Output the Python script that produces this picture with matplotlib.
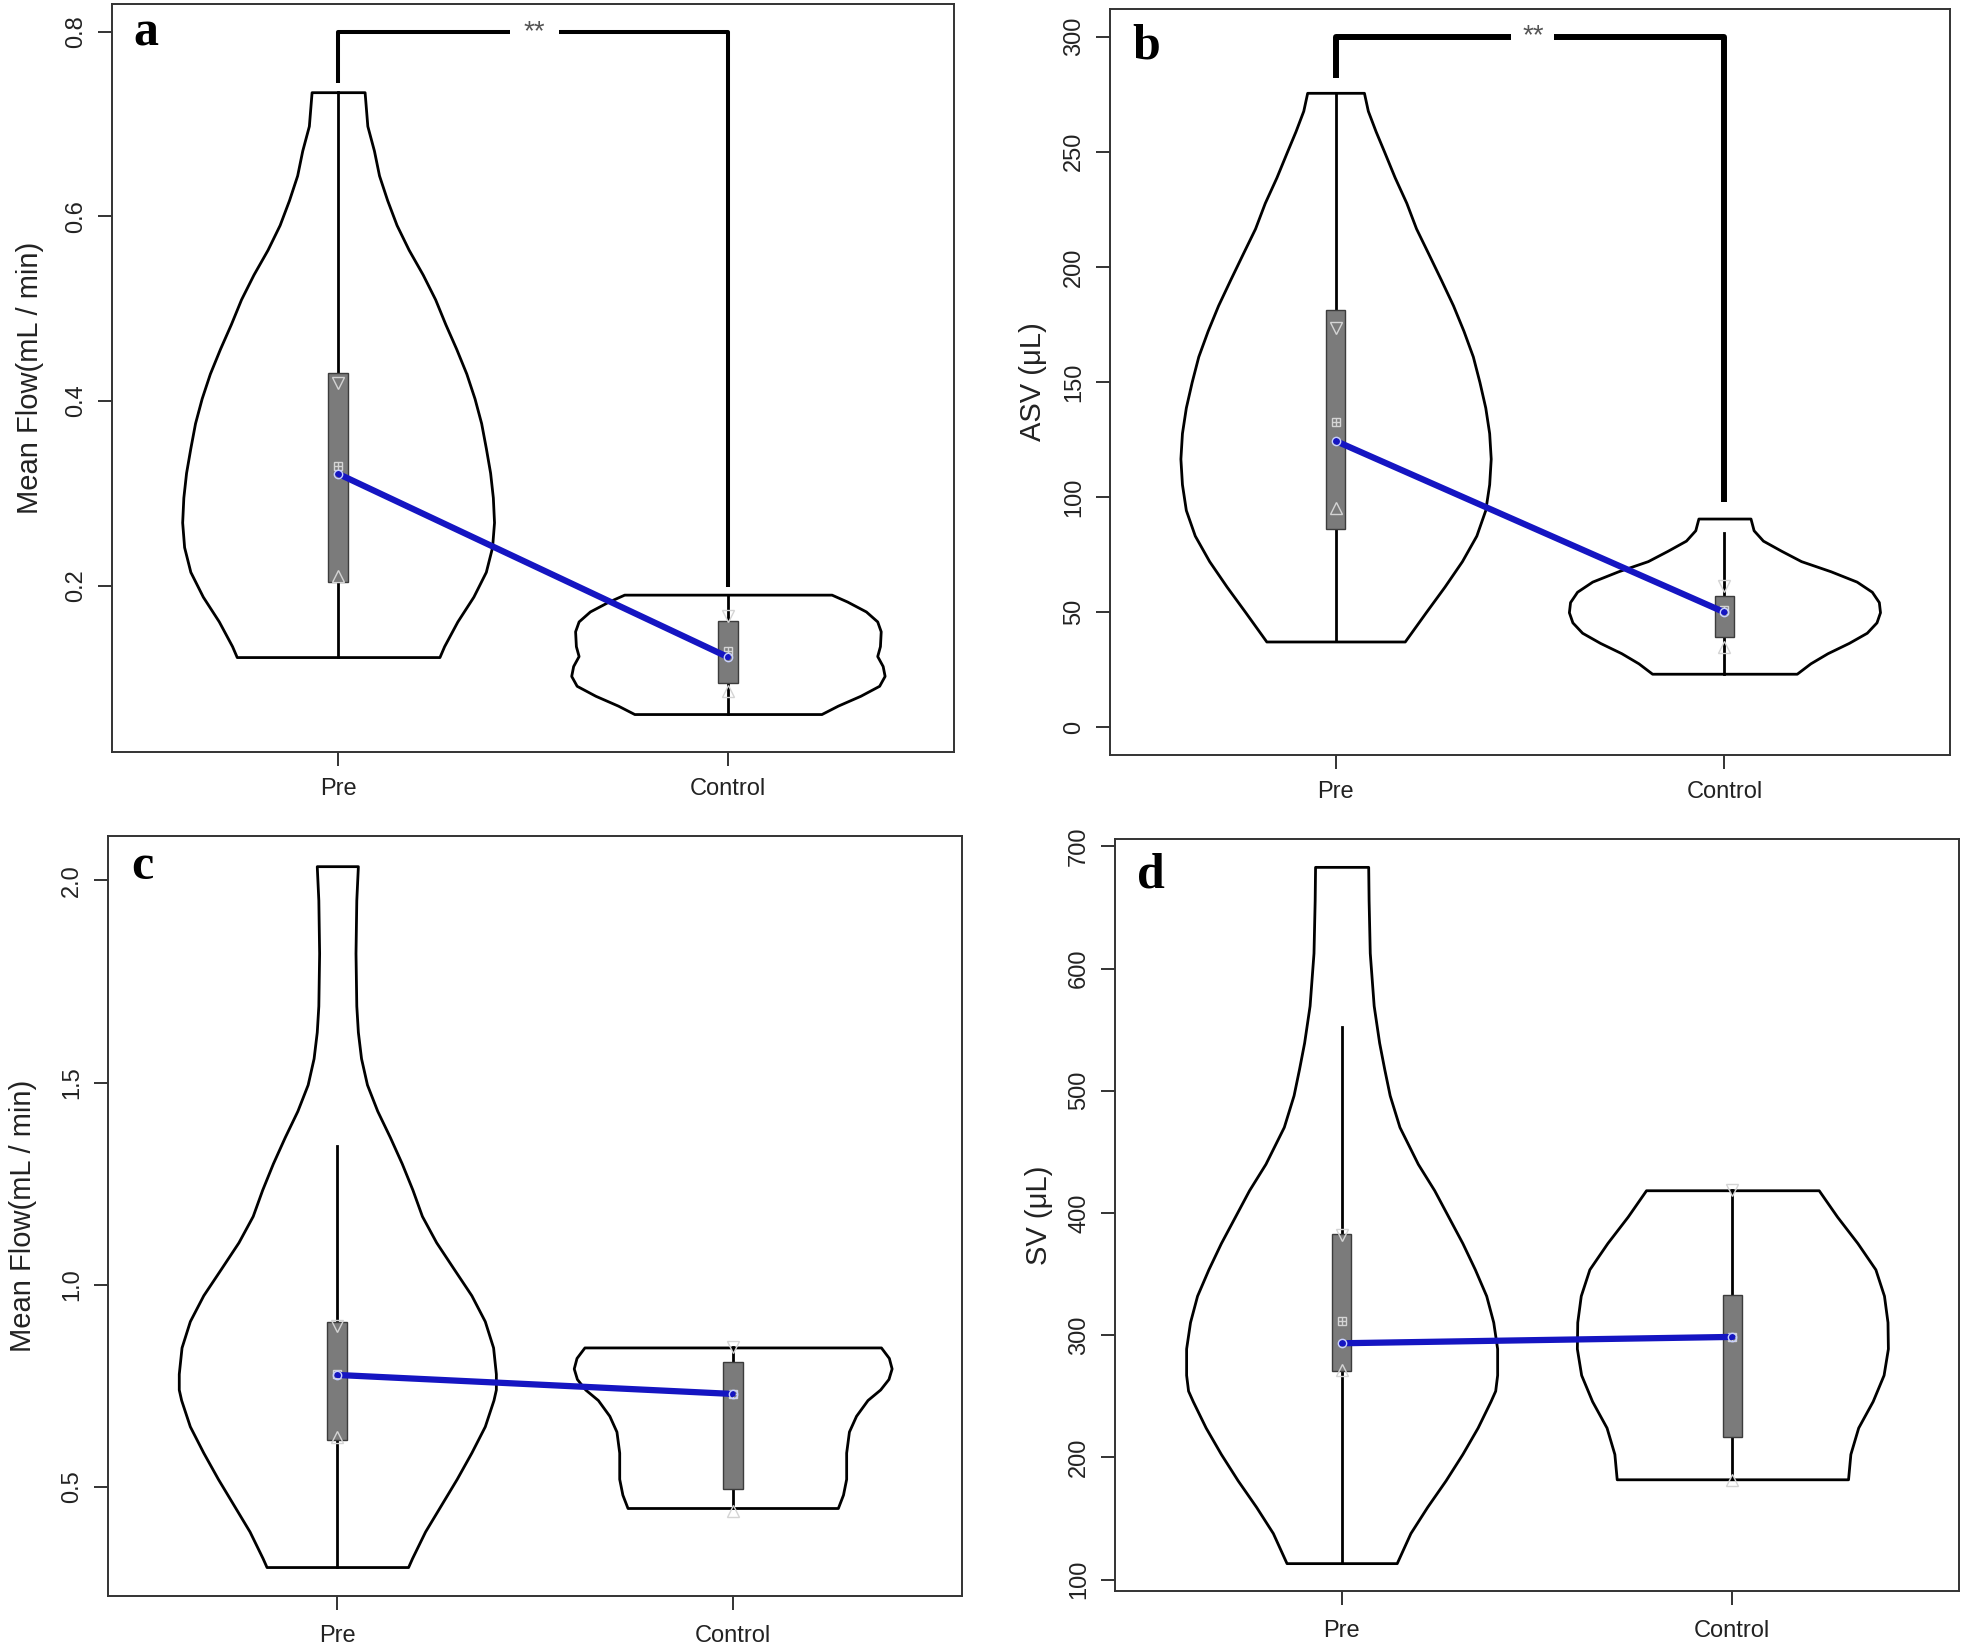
import numpy as np
import matplotlib
matplotlib.use('Agg')
import matplotlib.pyplot as plt

plt.rcParams['font.family'] = ['Liberation Sans', 'DejaVu Sans']

groups = ['Pre', 'Control']

# ---- panel a : Mean Flow (first set) ----
a_pre_y = [0.7345, 0.698, 0.6712, 0.6444, 0.6175, 0.5907, 0.5639, 0.5371, 0.5102, 0.4834, 0.4566, 0.4297,
           0.4029, 0.3761, 0.3492, 0.3224, 0.2956, 0.2687, 0.2419, 0.2151, 0.1882, 0.1614, 0.1346, 0.1228]
a_pre_w = [0.068, 0.075, 0.092, 0.105, 0.126, 0.150, 0.181, 0.217, 0.249, 0.275, 0.303, 0.329,
           0.350, 0.367, 0.379, 0.390, 0.397, 0.400, 0.395, 0.379, 0.347, 0.306, 0.272, 0.260]
a_pre_box = [0.2044, 0.3213, 0.4308]
a_pre_whisk = [0.1228, 0.7345]
a_pre_marks = [0.420, 0.330, 0.211]

a_ctrl_y = [0.1904, 0.1829, 0.1722, 0.1614, 0.1507, 0.1346, 0.1239, 0.1131, 0.1024, 0.0917, 0.0809, 0.0702, 0.0611]
a_ctrl_w = [0.266, 0.306, 0.354, 0.383, 0.392, 0.390, 0.383, 0.397, 0.402, 0.388, 0.340, 0.282, 0.240]
a_ctrl_box = [0.0943, 0.1228, 0.1614]
a_ctrl_whisk = [0.0611, 0.1904]
a_ctrl_marks = [0.167, 0.129, 0.086]

# ---- panel b : ASV ----
b_pre_y = [275.6, 267.8, 258.9, 250.0, 238.9, 227.8, 216.7, 205.6, 194.4, 183.3, 172.2, 161.1,
           150.0, 138.9, 127.8, 116.7, 105.6, 94.4, 83.3, 72.2, 61.1, 50.0, 37.3]
b_pre_w = [0.073, 0.083, 0.103, 0.125, 0.152, 0.182, 0.207, 0.239, 0.271, 0.302, 0.329, 0.353,
           0.370, 0.385, 0.395, 0.399, 0.395, 0.385, 0.362, 0.325, 0.280, 0.232, 0.178]
b_pre_box = [86.2, 124.4, 181.1]
b_pre_whisk = [37.3, 275.6]
b_pre_marks = [173.3, 132.7, 95.1]

b_ctrl_y = [90.7, 85.6, 81.1, 76.7, 72.2, 67.8, 63.3, 58.9, 54.4, 50.0, 45.6, 41.1, 36.7, 32.2, 27.8, 23.3]
b_ctrl_w = [0.067, 0.075, 0.099, 0.146, 0.197, 0.273, 0.340, 0.379, 0.397, 0.400, 0.391, 0.366, 0.320, 0.265, 0.221, 0.186]
b_ctrl_box = [39.3, 50.0, 57.1]
b_ctrl_whisk = [23.3, 84.4]
b_ctrl_marks = [61.6, 51.0, 34.9]

# ---- panel c : Mean Flow (second set) ----
c_pre_y = [2.035, 1.951, 1.820, 1.690, 1.625, 1.560, 1.495, 1.430, 1.365, 1.300, 1.235, 1.170, 1.105, 1.040,
           0.974, 0.910, 0.845, 0.780, 0.741, 0.715, 0.650, 0.585, 0.520, 0.455, 0.390, 0.324, 0.302]
c_pre_w = [0.052, 0.048, 0.046, 0.048, 0.052, 0.060, 0.075, 0.101, 0.133, 0.163, 0.190, 0.214, 0.250, 0.294,
           0.339, 0.373, 0.394, 0.401, 0.401, 0.395, 0.373, 0.339, 0.302, 0.262, 0.222, 0.189, 0.179]
c_pre_box = [0.615, 0.777, 0.907]
c_pre_whisk = [0.302, 1.343]
c_pre_marks = [0.897, 0.780, 0.624]

c_ctrl_y = [0.845, 0.819, 0.793, 0.767, 0.741, 0.715, 0.676, 0.637, 0.585, 0.520, 0.481, 0.448]
c_ctrl_w = [0.375, 0.395, 0.402, 0.394, 0.373, 0.341, 0.312, 0.294, 0.287, 0.287, 0.279, 0.266]
c_ctrl_box = [0.496, 0.730, 0.808]
c_ctrl_whisk = [0.448, 0.845]
c_ctrl_marks = [0.845, 0.730, 0.441]

# ---- panel d : SV ----
d_pre_y = [683.2, 656.0, 612.8, 569.7, 539.4, 517.9, 496.3, 470.4, 440.2, 418.6, 397.0, 375.4, 353.9,
           332.3, 310.7, 289.1, 267.5, 254.6, 246.0, 224.4, 202.8, 181.2, 159.6, 138.1, 113.5]
d_pre_w = [0.068, 0.069, 0.072, 0.082, 0.096, 0.109, 0.123, 0.148, 0.195, 0.237, 0.273, 0.309, 0.341,
           0.370, 0.388, 0.398, 0.398, 0.393, 0.381, 0.348, 0.309, 0.266, 0.219, 0.176, 0.141]
d_pre_box = [270.6, 293.4, 383.2]
d_pre_whisk = [113.5, 552.4]
d_pre_marks = [381.9, 311.6, 271.9]

d_ctrl_y = [418.6, 397.0, 375.4, 353.9, 332.3, 310.7, 289.1, 267.5, 246.0, 224.4, 202.8, 182.1]
d_ctrl_w = [0.221, 0.268, 0.320, 0.366, 0.388, 0.397, 0.398, 0.387, 0.359, 0.322, 0.302, 0.296]
d_ctrl_box = [216.6, 298.6, 333.1]
d_ctrl_whisk = [182.1, 418.6]
d_ctrl_marks = [418.6, 298.6, 181.2]

# significance brackets: top, left leg end, right leg end
a_bracket = [0.8, 0.744, 0.199]
b_bracket = [300, 282.2, 97.8]

ylabels = ['Mean Flow(mL / min)', 'ASV (\u03bcL)', 'Mean Flow(mL / min)', 'SV (\u03bcL)']
letters = ['a', 'b', 'c', 'd']

W, H = 1961, 1647
fig = plt.figure(figsize=(W / 100, H / 100), dpi=100)


def add_ax(left, top, right, bottom):
    return fig.add_axes([left / W, 1 - bottom / H, (right - left) / W, (bottom - top) / H])


def violin(ax, pos, ys, ws, box, whisk, marks):
    ys = np.array(ys)
    ws = np.array(ws)
    ax.fill_betweenx(ys, pos - ws, pos + ws, facecolor='white', edgecolor='black', linewidth=2.0, zorder=2)
    ax.plot([pos, pos], whisk, color='black', lw=2.0, zorder=3)
    ax.bar(pos, box[2] - box[0], bottom=box[0], width=0.05, color='#7b7b7b',
           edgecolor='#3c3c3c', linewidth=1.0, zorder=4)
    ax.plot(pos, marks[0], marker='v', ms=8, mfc='none', mec='#d4d4d4', mew=1.0, zorder=5)
    ax.plot(pos, marks[1], marker='s', ms=6, mfc='none', mec='#d4d4d4', mew=1.0, zorder=5)
    ax.plot(pos, marks[1], marker='+', ms=6, mec='#d4d4d4', mew=1.0, zorder=5)
    ax.plot(pos, marks[2], marker='^', ms=8, mfc='none', mec='#d4d4d4', mew=1.0, zorder=5)


def bracket(ax, br, gap, lw):
    ax.plot([1, 1, gap[0]], [br[1], br[0], br[0]], color='black', lw=lw, zorder=3, solid_capstyle='butt')
    ax.plot([gap[1], 2, 2], [br[0], br[0], br[2]], color='black', lw=lw, zorder=3, solid_capstyle='butt')
    ax.text((gap[0] + gap[1]) / 2, br[0], '**', ha='center', va='center', fontsize=20, color='#555555')


panels = [
    (add_ax(112, 4, 954, 752), (a_pre_y, a_pre_w, a_pre_box, a_pre_whisk, a_pre_marks),
     (a_ctrl_y, a_ctrl_w, a_ctrl_box, a_ctrl_whisk, a_ctrl_marks),
     (0.02, 0.83), [0.2, 0.4, 0.6, 0.8], ['0.2', '0.4', '0.6', '0.8'], 82, 9),
    (add_ax(1110, 9, 1950, 755), (b_pre_y, b_pre_w, b_pre_box, b_pre_whisk, b_pre_marks),
     (b_ctrl_y, b_ctrl_w, b_ctrl_box, b_ctrl_whisk, b_ctrl_marks),
     (-12, 312), [0, 50, 100, 150, 200, 250, 300], ['0', '50', '100', '150', '200', '250', '300'], 77, 9),
    (add_ax(108, 836, 962, 1596), (c_pre_y, c_pre_w, c_pre_box, c_pre_whisk, c_pre_marks),
     (c_ctrl_y, c_ctrl_w, c_ctrl_box, c_ctrl_whisk, c_ctrl_marks),
     (0.2304, 2.1096), [0.5, 1.0, 1.5, 2.0], ['0.5', '1.0', '1.5', '2.0'], 85, 11),
    (add_ax(1115, 839, 1959, 1591), (d_pre_y, d_pre_w, d_pre_box, d_pre_whisk, d_pre_marks),
     (d_ctrl_y, d_ctrl_w, d_ctrl_box, d_ctrl_whisk, d_ctrl_marks),
     (90.7, 706.0), [100, 200, 300, 400, 500, 600, 700], ['100', '200', '300', '400', '500', '600', '700'], 76, 11),
]

letter_pos = [(0.025, 0.945), (0.026, 0.933), (0.027, 0.943), (0.026, 0.935)]

for i, (ax, pre, ctrl, ylim, yt, ytl, lab_off, xpad) in enumerate(panels):
    violin(ax, 1, *pre)
    violin(ax, 2, *ctrl)
    # line joining the medians
    ax.plot([1, 2], [pre[2][1], ctrl[2][1]], color='#1515c2', lw=4.5, zorder=6, solid_capstyle='round')
    ax.plot([1, 2], [pre[2][1], ctrl[2][1]], ls='none', marker='o', ms=6, mfc='none',
            mec='#c8d0ff', mew=1.0, zorder=7)

    ax.set_xlim(0.42, 2.58)
    ax.set_ylim(*ylim)
    ax.set_xticks([1, 2], groups)
    ax.set_yticks(yt, ytl)
    for lbl in ax.get_yticklabels():
        lbl.set_rotation(90)
        lbl.set_va('center')
    ax.tick_params(length=10, width=1.4, color='#333333', labelsize=17, labelcolor='#222222')
    ax.tick_params(axis='y', pad=8)
    ax.tick_params(axis='x', pad=xpad)
    for sp in ax.spines.values():
        sp.set_color('#333333')
        sp.set_linewidth(1.4)

    ax.set_ylabel(ylabels[i], fontsize=21, va='center', color='#222222')
    w_px = ax.get_position().width * W
    ax.yaxis.set_label_coords(-lab_off / w_px, 0.5)

    ax.text(letter_pos[i][0], letter_pos[i][1], letters[i], transform=ax.transAxes,
            fontfamily='Liberation Serif', fontweight='bold', fontsize=36, va='baseline', ha='left')

bracket(panels[0][0], a_bracket, (1.442, 1.567), 2.9)
bracket(panels[1][0], b_bracket, (1.452, 1.563), 4.3)

fig.savefig('out.png', dpi=100, facecolor='white')
